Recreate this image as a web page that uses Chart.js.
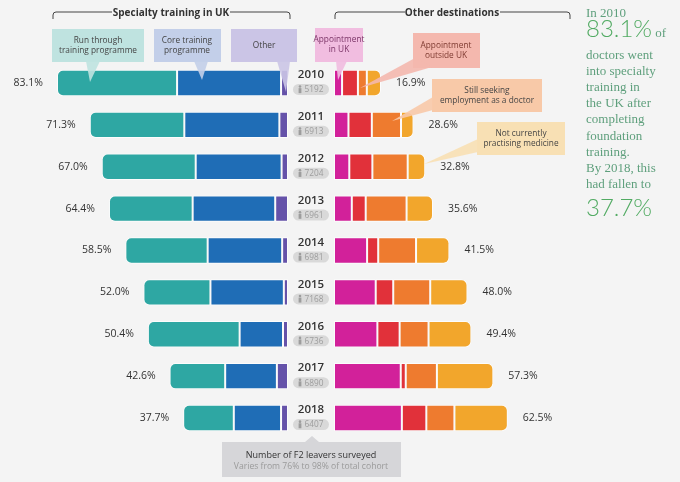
<!DOCTYPE html>
<html>
<head>
<meta charset="utf-8">
<script src="https://cdn.jsdelivr.net/npm/chart.js@4.4.1/dist/chart.umd.min.js"></script>
<style>
html, body { margin: 0; padding: 0; }
body { width: 680px; height: 482px; background: #f4f4f4; position: relative; overflow: hidden; font-family: "Open Sans", sans-serif; }
.wrap { position: absolute; }
#leftWrap { left: 0; top: 62px; width: 334px; height: 377px; }
#rightWrap { left: 334px; top: 62px; width: 240px; height: 377px; }
#overlay { position: absolute; left: 0; top: 0; pointer-events: none; }
.side { position: absolute; left: 586px; color: #5e9f7c; font-family: "Liberation Serif", serif; font-size: 13px; line-height: 16px; white-space: nowrap; }
.big { font-family: Lato, sans-serif; font-weight: 300; font-size: 24px; color: #52ab63; }
</style>
</head>
<body>
<div class="wrap" id="leftWrap"><canvas id="leftChart"></canvas></div>
<div class="wrap" id="rightWrap"><canvas id="rightChart"></canvas></div>

<svg id="overlay" width="680" height="482" font-family="Open Sans, sans-serif">
  <!-- section brackets -->
  <g fill="none" stroke="#444" stroke-width="1">
    <path d="M53,19 V15 Q53,12 56,12 H112 M230,12 H287 Q290,12 290,15 V19"/>
    <path d="M335,19 V15 Q335,12 338,12 H405 M500,12 H567 Q570,12 570,15 V19"/>
  </g>
  <text x="171" y="16" text-anchor="middle" font-size="10" font-weight="bold" fill="#333">Specialty training in UK</text>
  <text x="452" y="16" text-anchor="middle" font-size="10" font-weight="bold" fill="#333">Other destinations</text>

  <!-- callouts -->
  <g font-size="8.3" fill="#444" text-anchor="middle">
    <rect x="52" y="29" width="92" height="33" fill="#bfe3e0"/>
    <polygon points="86,61 100,61 90,82" fill="#bfe3e0" opacity="0.9"/>
    <text x="98" y="43" fill="#444">Run through</text>
    <text x="98" y="53" fill="#444">training programme</text>

    <rect x="154" y="29" width="67" height="33" fill="#c3cfe9"/>
    <polygon points="194,61 208,61 202,80" fill="#c3cfe9" opacity="0.9"/>
    <text x="187" y="43" fill="#444">Core training</text>
    <text x="187" y="53" fill="#444">programme</text>

    <rect x="231" y="29" width="66" height="33" fill="#cbc5e6"/>
    <polygon points="277,61 290,61 286,92" fill="#cbc5e6" opacity="0.9"/>
    <text x="264" y="48" fill="#444">Other</text>

    <rect x="315" y="28" width="48" height="34" fill="#f1bde0"/>
    <polygon points="336,61 347,61 338,80" fill="#f1bde0" opacity="0.9"/>
    <text x="339" y="42" fill="#7a3366">Appointment</text>
    <text x="339" y="52" fill="#7a3366">in UK</text>

    <rect x="413" y="33" width="67" height="35" fill="#f4b8ae"/>
    <polygon points="415,58 432,67 360,88" fill="#f4b8ae" opacity="0.9"/>
    <text x="446" y="48" fill="#7e3a30">Appointment</text>
    <text x="446" y="58" fill="#7e3a30">outside UK</text>

    <rect x="432" y="79" width="110" height="33" fill="#f8c9a8"/>
    <polygon points="433,97 433,110 392,121" fill="#f8c9a8" opacity="0.9"/>
    <text x="487" y="93" fill="#444">Still seeking</text>
    <text x="487" y="103" fill="#444">employment as a doctor</text>

    <rect x="477" y="122" width="88" height="33" fill="#f8e0b4"/>
    <polygon points="478,139 478,152 424,164" fill="#f8e0b4" opacity="0.9"/>
    <text x="521" y="136" fill="#444">Not currently</text>
    <text x="521" y="146" fill="#444">practising medicine</text>
  </g>

  <!-- bottom note -->
  <polygon points="222,442 305,442 312,436 319,442 401,442 401,477 222,477" fill="#d6d6d9"/>
  <text x="311" y="458" text-anchor="middle" font-size="9" fill="#333">Number of F2 leavers surveyed</text>
  <text x="311" y="469" text-anchor="middle" font-size="8.6" fill="#9a9a9a">Varies from 76% to 98% of total cohort</text>
</svg>

<div class="side" style="top:5px;">In 2010</div>
<div class="side" style="top:20px;"><span class="big">83.1%</span> of</div>
<div class="side" style="top:47px;">doctors went</div>
<div class="side" style="top:63px;">into specialty</div>
<div class="side" style="top:79px;">training in</div>
<div class="side" style="top:95px;">the UK after</div>
<div class="side" style="top:111px;">completing</div>
<div class="side" style="top:128px;">foundation</div>
<div class="side" style="top:144px;">training.</div>
<div class="side" style="top:160px;">By 2018, this</div>
<div class="side" style="top:176px;">had fallen to</div>
<div class="side big" style="top:192px;line-height:30px;">37.7%</div>

<script>
// data (% of F2 leavers surveyed)
const years = ['2010', '2011', '2012', '2013', '2014', '2015', '2016', '2017', '2018'];
const surveyed = [5192, 6913, 7204, 6961, 6981, 7168, 6736, 6890, 6407];

const runThrough = [43.2, 34.0, 33.8, 30.1, 29.6, 24.1, 33.0, 20.0, 18.2];
const coreTraining = [37.4, 34.2, 30.9, 29.7, 26.8, 26.4, 15.6, 18.6, 17.0];
const otherTraining = [2.5, 3.1, 2.3, 4.6, 2.1, 1.5, 1.8, 4.0, 2.5];

const apptUK = [2.9, 5.2, 5.5, 6.4, 11.9, 15.0, 15.6, 24.0, 24.4];
const apptOutside = [5.7, 8.4, 8.3, 5.0, 4.0, 6.3, 8.0, 1.8, 8.8];
const seeking = [3.2, 10.5, 12.7, 14.7, 13.6, 13.3, 10.4, 11.2, 10.1];
const notPractising = [5.1, 4.5, 6.3, 9.5, 12.0, 13.4, 15.4, 20.3, 19.2];

const sumAt = (arrs, i) => arrs.reduce((s, a) => s + a[i], 0);

function bar(label, data, color, radius) {
    return {
        label: label,
        data: data,
        backgroundColor: color,
        borderColor: 'rgba(255,255,255,0.75)',
        borderWidth: 1,
        borderSkipped: false,
        borderRadius: radius || 0,
        barPercentage: 1,
        categoryPercentage: 0.63
    };
}

// percentage at the outer end + year / surveyed pill in the middle
const leftLabels = {
    id: 'leftLabels',
    afterDatasetsDraw(chart) {
        const ctx = chart.ctx;
        const xs = chart.scales.x, ys = chart.scales.y;
        const midX = chart.chartArea.right + 23;
        ctx.save();
        years.forEach((yr, i) => {
            const y = ys.getPixelForValue(i);
            const total = sumAt([runThrough, coreTraining, otherTraining], i);
            ctx.font = '10.5px "Open Sans"';
            ctx.fillStyle = '#333';
            ctx.textAlign = 'right';
            ctx.textBaseline = 'middle';
            ctx.fillText(total.toFixed(1) + '%', xs.getPixelForValue(total) - 14, y);

            ctx.textAlign = 'center';
            ctx.font = '600 11.5px "Open Sans"';
            ctx.fillStyle = '#333';
            ctx.fillText(yr, midX, y - 8);

            // grey pill
            ctx.fillStyle = '#d9d9d9';
            ctx.beginPath();
            ctx.roundRect(midX - 18, y + 1, 36, 11, 5.5);
            ctx.fill();
            // little person icon
            ctx.fillStyle = '#9d9d9d';
            ctx.beginPath();
            ctx.arc(midX - 11, y + 3.6, 1.3, 0, Math.PI * 2);
            ctx.fill();
            ctx.fillRect(midX - 12.4, y + 5.2, 2.8, 5);
            ctx.font = '8.3px "Open Sans"';
            ctx.fillStyle = '#9d9d9d';
            ctx.fillText(String(surveyed[i]), midX + 3, y + 7);
        });
        ctx.restore();
    }
};

const rightLabels = {
    id: 'rightLabels',
    afterDatasetsDraw(chart) {
        const ctx = chart.ctx;
        const xs = chart.scales.x, ys = chart.scales.y;
        ctx.save();
        ctx.font = '10.5px "Open Sans"';
        ctx.fillStyle = '#333';
        ctx.textAlign = 'left';
        ctx.textBaseline = 'middle';
        years.forEach((yr, i) => {
            const total = sumAt([apptUK, apptOutside, seeking, notPractising], i);
            ctx.fillText(total.toFixed(1) + '%', xs.getPixelForValue(total) + 15, ys.getPixelForValue(i));
        });
        ctx.restore();
    }
};

const common = {
    responsive: true,
    maintainAspectRatio: false,
    animation: false,
    indexAxis: 'y',
    plugins: { legend: { display: false }, tooltip: { enabled: false } }
};

new Chart(document.getElementById('leftChart').getContext('2d'), {
    type: 'bar',
    data: {
        labels: years,
        datasets: [
            bar('Other', otherTraining, '#6552a9'),
            bar('Core training programme', coreTraining, '#1f6db6'),
            bar('Run through training programme', runThrough, '#2ea7a3', { topLeft: 6, bottomLeft: 6 })
        ]
    },
    options: Object.assign({}, common, {
        layout: { padding: { left: 0, right: 46, top: 0, bottom: 0 } },
        scales: {
            x: { stacked: true, min: 0, max: 103.6, reverse: true, display: false },
            y: { stacked: true, display: false }
        }
    }),
    plugins: [leftLabels]
});

new Chart(document.getElementById('rightChart').getContext('2d'), {
    type: 'bar',
    data: {
        labels: years,
        datasets: [
            bar('Appointment in UK', apptUK, '#d2219a'),
            bar('Appointment outside UK', apptOutside, '#e1313a'),
            bar('Still seeking employment as a doctor', seeking, '#ee7b2f'),
            bar('Not currently practising medicine', notPractising, '#f2a62c', { topRight: 6, bottomRight: 6 })
        ]
    },
    options: Object.assign({}, common, {
        layout: { padding: 0 },
        scales: {
            x: { stacked: true, min: 0, max: 86.3, display: false },
            y: { stacked: true, display: false }
        }
    }),
    plugins: [rightLabels]
});
</script>
</body>
</html>
